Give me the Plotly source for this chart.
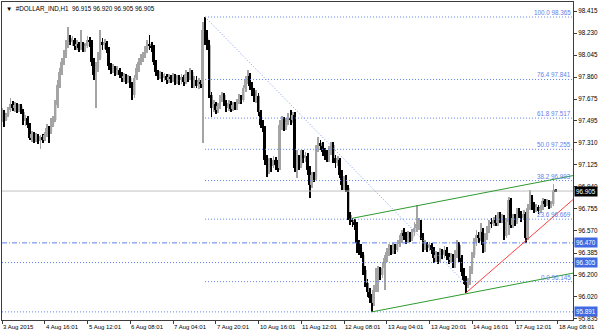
import plotly.graph_objects as go

# ---------------- data (H1 bars) ----------------
bar_open = [
97.518,97.568,97.501,97.543,97.585,97.635,97.602,97.627,97.585,97.619,
97.568,97.493,97.518,97.459,97.350,97.384,97.333,97.367,97.325,97.358,
97.333,97.375,97.434,97.400,97.468,97.501,97.627,97.795,97.904,97.988,
98.047,98.130,98.189,98.156,98.172,98.122,98.139,98.105,98.139,98.105,
98.122,98.172,98.156,97.988,97.879,97.937,98.021,98.156,98.130,98.147,
98.089,97.954,97.921,97.937,97.904,97.921,97.879,97.854,97.870,97.837,
97.854,97.803,97.711,97.854,97.937,97.988,98.021,98.047,98.089,98.139,
98.122,98.105,97.988,97.904,97.870,97.887,97.854,97.870,97.837,97.862,
97.845,97.870,97.828,97.854,97.837,97.862,97.820,97.887,97.854,97.904,
97.803,97.837,97.786,97.820,97.803,98.256,98.189,98.130,97.711,97.602,
97.635,97.585,97.619,97.669,97.711,97.644,97.602,97.635,97.593,97.627,
97.610,97.652,97.686,97.669,97.770,97.837,97.870,97.786,97.736,97.686,
97.703,97.568,97.459,97.434,97.166,97.065,97.149,97.115,97.166,97.124,
97.098,97.459,97.501,97.442,97.484,97.518,97.501,97.543,97.098,97.166,
97.124,97.208,97.182,97.199,97.082,96.956,97.040,97.015,97.250,97.308,
97.283,97.233,97.208,97.182,97.250,97.291,97.182,97.140,97.166,97.040,
96.956,96.998,96.931,96.704,96.662,96.645,96.620,96.469,96.427,96.369,
96.243,96.134,96.058,96.008,95.966,96.075,96.218,96.243,96.201,96.260,
96.343,96.394,96.427,96.402,96.444,96.411,96.461,96.494,96.553,96.528,
96.494,96.536,96.511,96.562,96.595,96.629,96.645,96.520,96.436,96.461,
96.427,96.452,96.411,96.343,96.369,96.327,96.394,96.369,96.411,96.360,
96.327,96.352,96.301,96.369,96.452,96.343,96.226,96.159,96.117,96.142,
96.243,96.369,96.478,96.536,96.511,96.562,96.452,96.528,96.578,96.645,
96.629,96.662,96.637,96.704,96.662,96.679,96.528,96.645,96.830,96.620,
96.679,96.645,96.729,96.704,96.679,96.712,96.511,96.763,96.847,96.788,
96.746,96.771,96.738,96.763,96.822,96.796,96.813,96.780,96.796,96.915]
bar_high = [
97.602,97.585,97.560,97.610,97.686,97.661,97.652,97.644,97.635,97.635,
97.593,97.543,97.535,97.476,97.409,97.400,97.392,97.384,97.375,97.384,
97.400,97.468,97.451,97.518,97.535,97.669,97.837,97.937,98.021,98.089,
98.172,98.281,98.214,98.206,98.189,98.172,98.156,98.256,98.156,98.147,
98.206,98.197,98.172,98.021,97.988,98.072,98.256,98.189,98.181,98.164,
98.114,97.979,97.971,97.954,97.954,97.937,97.904,97.896,97.887,97.879,
97.870,97.820,97.879,97.971,98.021,98.055,98.072,98.122,98.172,98.214,
98.156,98.130,98.005,97.921,97.912,97.904,97.896,97.887,97.887,97.879,
97.896,97.887,97.879,97.879,97.887,97.879,97.921,97.904,97.937,97.921,
97.870,97.870,97.854,97.837,98.323,98.365,98.256,98.172,97.736,97.669,
97.652,97.644,97.711,97.736,97.728,97.669,97.669,97.661,97.652,97.652,
97.677,97.719,97.711,97.795,97.870,97.921,97.896,97.820,97.770,97.753,
97.728,97.585,97.501,97.451,97.208,97.182,97.182,97.199,97.191,97.166,
97.501,97.535,97.526,97.518,97.560,97.585,97.568,97.568,97.250,97.208,
97.250,97.250,97.233,97.224,97.115,97.065,97.065,97.291,97.358,97.333,
97.317,97.266,97.250,97.283,97.317,97.317,97.208,97.199,97.182,97.082,
97.031,97.040,96.956,96.729,96.679,96.671,96.645,96.494,96.461,96.394,
96.276,96.167,96.092,96.041,96.117,96.260,96.276,96.268,96.310,96.369,
96.427,96.461,96.452,96.469,96.461,96.494,96.536,96.578,96.595,96.562,
96.570,96.562,96.587,96.645,96.788,96.679,96.662,96.553,96.494,96.478,
96.478,96.469,96.436,96.402,96.394,96.427,96.419,96.444,96.436,96.385,
96.385,96.377,96.411,96.494,96.478,96.369,96.260,96.192,96.176,96.276,
96.394,96.511,96.578,96.562,96.637,96.595,96.553,96.612,96.662,96.679,
96.687,96.704,96.729,96.729,96.712,96.704,96.679,96.855,96.847,96.712,
96.712,96.763,96.763,96.738,96.746,96.729,96.796,96.914,96.872,96.813,
96.796,96.788,96.788,96.847,96.838,96.838,96.830,96.822,96.964,96.920]
bar_low = [
97.484,97.442,97.493,97.526,97.568,97.577,97.568,97.560,97.568,97.552,
97.459,97.451,97.434,97.333,97.317,97.308,97.317,97.300,97.258,97.308,
97.325,97.358,97.308,97.384,97.442,97.484,97.602,97.770,97.879,97.963,
98.021,98.105,98.130,98.122,98.089,98.089,98.072,98.089,98.072,98.072,
98.105,98.114,97.954,97.837,97.602,97.904,98.005,98.089,98.097,98.063,
97.921,97.887,97.896,97.870,97.879,97.854,97.820,97.820,97.803,97.812,
97.770,97.669,97.686,97.837,97.904,97.963,97.988,98.021,98.063,98.089,
98.072,97.963,97.870,97.837,97.845,97.820,97.828,97.803,97.812,97.812,
97.820,97.795,97.803,97.795,97.803,97.786,97.803,97.820,97.837,97.770,
97.770,97.770,97.761,97.770,97.308,98.130,98.089,97.686,97.526,97.568,
97.552,97.560,97.593,97.652,97.619,97.568,97.577,97.568,97.577,97.585,
97.585,97.635,97.635,97.652,97.736,97.803,97.753,97.703,97.652,97.644,
97.535,97.434,97.400,97.124,97.023,97.048,97.065,97.098,97.082,97.065,
97.082,97.417,97.409,97.417,97.459,97.459,97.476,97.065,97.015,97.082,
97.098,97.140,97.149,97.040,96.847,96.931,96.981,96.998,97.233,97.250,
97.199,97.166,97.149,97.149,97.208,97.140,97.098,97.115,97.015,96.914,
96.914,96.897,96.662,96.620,96.603,96.578,96.385,96.369,96.343,96.201,
96.100,96.016,95.966,95.891,95.941,96.058,96.058,96.159,96.176,96.075,
96.310,96.360,96.369,96.377,96.377,96.394,96.436,96.469,96.494,96.461,
96.469,96.478,96.486,96.528,96.562,96.578,96.494,96.394,96.411,96.394,
96.402,96.377,96.301,96.310,96.293,96.310,96.335,96.343,96.327,96.293,
96.301,96.260,96.260,96.343,96.310,96.192,96.125,96.050,96.092,96.117,
96.209,96.343,96.444,96.469,96.486,96.385,96.394,96.494,96.553,96.595,
96.612,96.612,96.612,96.637,96.637,96.494,96.511,96.536,96.595,96.595,
96.612,96.629,96.679,96.645,96.662,96.469,96.494,96.746,96.746,96.721,
96.729,96.712,96.721,96.746,96.771,96.780,96.754,96.763,96.780,96.905]
bar_close = [
97.568,97.501,97.543,97.585,97.635,97.602,97.627,97.585,97.619,97.568,
97.493,97.518,97.459,97.350,97.384,97.333,97.367,97.325,97.358,97.333,
97.375,97.434,97.400,97.468,97.501,97.627,97.795,97.904,97.988,98.047,
98.130,98.189,98.156,98.172,98.122,98.139,98.105,98.139,98.105,98.122,
98.172,98.156,97.988,97.879,97.937,98.021,98.156,98.130,98.147,98.089,
97.954,97.921,97.937,97.904,97.921,97.879,97.854,97.870,97.837,97.854,
97.803,97.711,97.854,97.937,97.988,98.021,98.047,98.089,98.139,98.122,
98.105,97.988,97.904,97.870,97.887,97.854,97.870,97.837,97.862,97.845,
97.870,97.828,97.854,97.837,97.862,97.820,97.887,97.854,97.904,97.803,
97.837,97.786,97.820,97.803,98.256,98.189,98.130,97.711,97.602,97.635,
97.585,97.619,97.669,97.711,97.644,97.602,97.635,97.593,97.627,97.610,
97.652,97.686,97.669,97.770,97.837,97.870,97.786,97.736,97.686,97.703,
97.568,97.459,97.434,97.166,97.065,97.149,97.115,97.166,97.124,97.098,
97.459,97.501,97.442,97.484,97.518,97.501,97.543,97.098,97.166,97.124,
97.208,97.182,97.199,97.082,96.956,97.040,97.015,97.250,97.308,97.283,
97.233,97.208,97.182,97.250,97.291,97.182,97.140,97.166,97.040,96.956,
96.998,96.931,96.704,96.662,96.645,96.620,96.469,96.427,96.369,96.243,
96.134,96.058,96.008,95.966,96.075,96.218,96.243,96.201,96.260,96.343,
96.394,96.427,96.402,96.444,96.411,96.461,96.494,96.553,96.528,96.494,
96.536,96.511,96.562,96.595,96.629,96.645,96.520,96.436,96.461,96.427,
96.452,96.411,96.343,96.369,96.327,96.394,96.369,96.411,96.360,96.327,
96.352,96.301,96.369,96.452,96.343,96.226,96.159,96.117,96.142,96.243,
96.369,96.478,96.536,96.511,96.562,96.452,96.528,96.578,96.645,96.629,
96.662,96.637,96.704,96.662,96.679,96.528,96.645,96.830,96.620,96.679,
96.645,96.729,96.704,96.679,96.712,96.511,96.763,96.847,96.788,96.746,
96.771,96.738,96.763,96.822,96.796,96.813,96.780,96.796,96.914,96.905]

time_labels = ["3 Aug 2015", "4 Aug 16:01", "5 Aug 12:01", "6 Aug 08:01",
               "7 Aug 04:01", "7 Aug 20:01", "10 Aug 16:01", "11 Aug 12:01",
               "12 Aug 08:01", "13 Aug 04:01", "13 Aug 20:01", "14 Aug 16:01",
               "17 Aug 12:01", "18 Aug 08:01"]
time_label_bars = [0, 20, 40, 60, 80, 100, 120, 140, 160, 180, 200, 220, 240, 260]

price_ticks = [98.415, 98.230, 98.045, 97.860, 97.675, 97.495, 97.310, 97.125,
               96.940, 96.755, 96.570, 96.385, 96.200, 96.020, 95.835]

fib_levels = [0.0, 23.6, 38.2, 50.0, 61.8, 76.4, 100.0]
fib_prices = [96.145, 96.669, 96.993, 97.255, 97.517, 97.841, 98.365]
fib_start_bar = 95
fib_end_bar = 216

hline_prices = [96.470, 96.305, 95.891]
hline_dash = ["5px,2px,1px,2px", "1px,2px", "1px,2px"]
bid_price = 96.905

channel_low_pts = [(173, 95.891), (217, 96.043)]
channel_up_pts = [(164, 96.677), (194, 96.781)]
red_pts = [(217, 96.050), (257, 96.675)]

title_text = "▼  #DOLLAR_IND,H1  96.915 96.920 96.905 96.905"

# ---------------- figure ----------------
n = len(bar_close)
bars = list(range(n))
X0, X1 = 0.0, 267.13
Y0, Y1 = 95.823, 98.491
FONT = "Liberation Sans"
BLUE = "#5f80ea"
BULL, BEAR = "#a4a4a4", "#000000"

fig = go.Figure()

def ray(p, q):
    (xa, ya), (xb, yb) = p, q
    s = (yb - ya) / (xb - xa)
    return [xa, X1], [ya, ya + s * (X1 - xa)]

# horizontal user lines
for p, d in zip(hline_prices, hline_dash):
    fig.add_trace(go.Scatter(x=[X0, X1], y=[p, p], mode="lines",
                             line=dict(color=BLUE, width=1, dash=d),
                             hoverinfo="skip", showlegend=False))
fig.add_trace(go.Scatter(x=[X0, X1], y=[bid_price, bid_price], mode="lines",
                         line=dict(color="#c0c0c0", width=1),
                         hoverinfo="skip", showlegend=False))
for p in fib_prices:
    fig.add_trace(go.Scatter(x=[fib_start_bar, X1], y=[p, p], mode="lines",
                             line=dict(color=BLUE, width=1, dash="1px,2px"),
                             hoverinfo="skip", showlegend=False))
fig.add_trace(go.Scatter(x=[fib_start_bar, fib_end_bar],
                         y=[fib_prices[-1], fib_prices[0]], mode="lines",
                         line=dict(color="#7d98ee", width=1, dash="1px,2px"),
                         hoverinfo="skip", showlegend=False))

# candles drawn as wick bars and body bars
colors = [BULL if c >= o else BEAR for o, c in zip(bar_open, bar_close)]
fig.add_trace(go.Bar(x=bars, y=[h - l for h, l in zip(bar_high, bar_low)], base=bar_low,
                     width=0.42, marker=dict(color=colors, line=dict(width=0)),
                     hoverinfo="skip", showlegend=False))
fig.add_trace(go.Bar(x=bars,
                     y=[max(abs(c - o), 0.004) for o, c in zip(bar_open, bar_close)],
                     base=[min(o, c) for o, c in zip(bar_open, bar_close)],
                     width=0.9, marker=dict(color=colors, line=dict(width=0)),
                     hoverinfo="skip", showlegend=False))

for pts, col in [(channel_low_pts, "#2e9a2e"), (channel_up_pts, "#2e9a2e"), (red_pts, "#ff4040")]:
    xs, ys = ray(*pts)
    fig.add_trace(go.Scatter(x=xs, y=ys, mode="lines", line=dict(color=col, width=1),
                             hoverinfo="skip", showlegend=False))

ann = []
for lv, p in zip(fib_levels, fib_prices):
    ann.append(dict(x=1, xref="paper", y=p, yref="y", xanchor="right", yanchor="bottom",
                    text=f"{lv:.1f} {p:.3f}", showarrow=False, borderpad=0,
                    xshift=-1, font=dict(family=FONT, size=6.3, color=BLUE)))
for b, t in zip(time_label_bars, time_labels):
    ann.append(dict(x=b, xref="x", y=0, yref="paper", xanchor="left", yanchor="top",
                    text=t, showarrow=False, borderpad=0, yshift=-3,
                    font=dict(family=FONT, size=6, color="#000000")))
for p in hline_prices:
    ann.append(dict(x=1, xref="paper", y=p, yref="y", xanchor="left", yanchor="middle",
                    text=f"{p:.3f}", showarrow=False, bgcolor="#4169e1", borderpad=1,
                    xshift=1, font=dict(family=FONT, size=6.3, color="#ffffff")))
ann.append(dict(x=1, xref="paper", y=bid_price, yref="y", xanchor="left", yanchor="middle",
                text=f"{bid_price:.3f}", showarrow=False, bgcolor="#000000", borderpad=1,
                xshift=1, font=dict(family=FONT, size=6.3, color="#ffffff")))
ann.append(dict(x=0, xref="paper", y=1, yref="paper", xanchor="left", yanchor="top",
                text=title_text, showarrow=False, xshift=2, yshift=-1,
                font=dict(family=FONT, size=6.3, color="#000000")))

fig.update_layout(
    width=600, height=333, margin=dict(l=2, r=27, t=2, b=13),
    paper_bgcolor="#ffffff", plot_bgcolor="#ffffff",
    annotations=ann, showlegend=False, barmode="overlay",
    xaxis=dict(range=[X0, X1], showgrid=False, zeroline=False,
               showline=True, mirror=True, linecolor="#3c3c3c", linewidth=1,
               tickvals=time_label_bars, ticks="outside", ticklen=3, tickcolor="#3c3c3c",
               showticklabels=False),
    yaxis=dict(range=[Y0, Y1], side="right", showgrid=False, zeroline=False,
               showline=True, mirror=True, linecolor="#3c3c3c", linewidth=1,
               tickvals=price_ticks, ticktext=[f"{v:.3f}" for v in price_ticks],
               ticks="outside", ticklen=3, tickcolor="#3c3c3c",
               tickfont=dict(family=FONT, size=6.3, color="#000000")),
)

fig.write_html("out.html")
